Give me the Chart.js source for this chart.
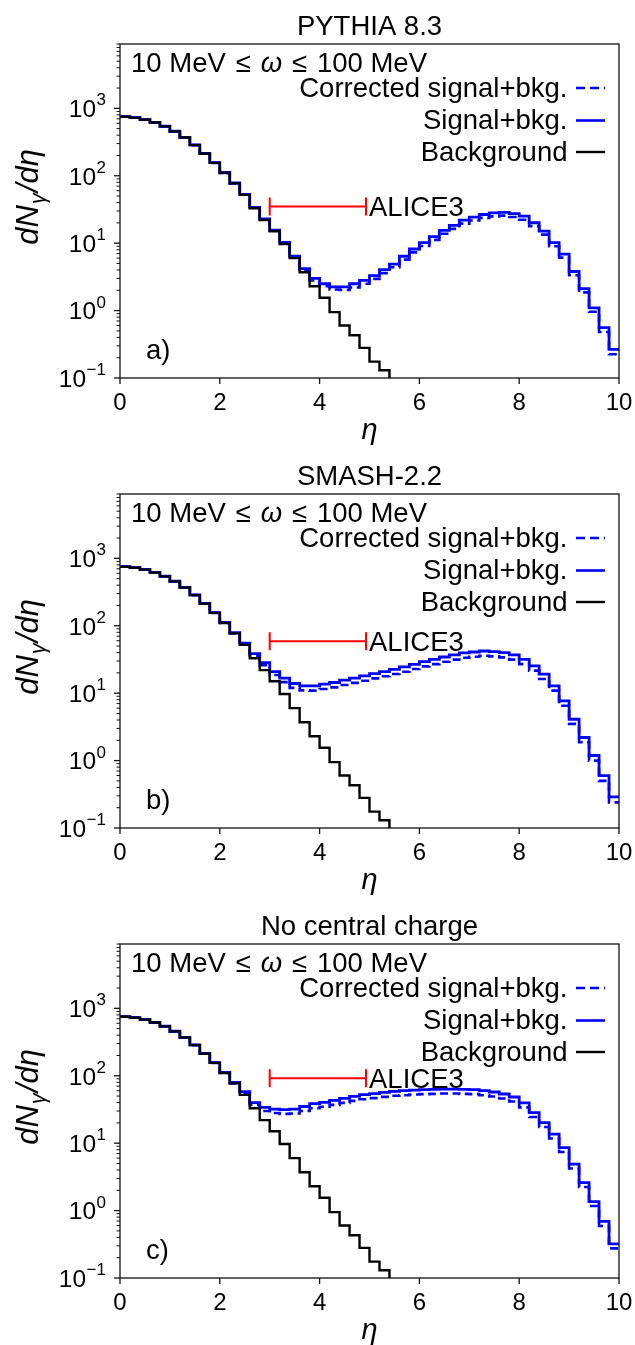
<!DOCTYPE html>
<html>
<head>
<meta charset="utf-8">
<script src="https://cdn.jsdelivr.net/npm/chart.js@4.4.1/dist/chart.umd.min.js"></script>
<style>
  html, body { margin: 0; padding: 0; background: #ffffff; }
  body { width: 635px; height: 1345px; position: relative; overflow: hidden; }
  canvas { position: absolute; left: 0; }
</style>
</head>
<body>
<canvas id="c0" width="635" height="450" style="top:0px"></canvas>
<canvas id="c1" width="635" height="450" style="top:450px"></canvas>
<canvas id="c2" width="635" height="450" style="top:900px"></canvas>
<script>
// ---------------- data ----------------
const binEdges = [0,0.2,0.4,0.6,0.8,1.0,1.2,1.4,1.6,1.8,2.0,2.2,2.4,2.6,2.8,3.0,3.2,3.4,3.6,3.8,
  4.0,4.2,4.4,4.6,4.8,5.0,5.2,5.4,5.6,5.8,6.0,6.2,6.4,6.6,6.8,7.0,7.2,7.4,7.6,7.8,
  8.0,8.2,8.4,8.6,8.8,9.0,9.2,9.4,9.6,9.8,10.0];

// background (same in all panels); values per bin starting at binEdges[i]
const background = [750,725,680,615,540,455,370,285,212,155,110,77,52,33,22,15,9.7,6.0,3.7,2.3,
  1.55,0.95,0.6,0.43,0.28,0.175,0.13,0.085];

const pythiaSignal = [752,727,682,617,542,457,372,287,214,157,112,78,53,34,23,15.6,10.3,6.4,4.2,3.0,
  2.5,2.25,2.25,2.5,2.8,3.3,4.05,4.9,6.4,8.2,10.2,12.5,15.5,18.3,21.9,24.3,26.6,28.1,28.7,27.5,
  25.1,20.1,15.1,10.2,6.9,3.8,2.12,1.1,0.56,0.265];
const pythiaCorrected = [750,725,680,615,540,455,370,285,212,155,110,77,52.5,33.5,22.5,15.3,10.0,6.2,4.0,2.8,
  2.3,2.05,2.02,2.2,2.5,2.95,3.6,4.4,5.7,7.3,9.1,11.2,13.8,16.3,19.5,21.7,23.7,25.0,25.6,24.5,
  22.3,17.9,13.4,9.0,6.1,3.35,1.86,0.96,0.48,0.225];

const smashSignal = [752,727,682,617,542,457,372,287,214,157,112,79,55,38.6,28.4,20.9,16.7,13.9,12.8,12.8,
  13.6,14.4,15.6,16.7,18.0,19.5,20.9,22.6,24.5,26.8,29.4,31.8,34.4,36.9,39.5,40.8,42.2,41.3,39.9,36.9,
  31.8,25.4,19.1,12.8,7.7,4.1,2.2,1.19,0.6,0.29];
const smashCorrected = [750,725,680,615,540,455,370,285,212,155,110,77,53,36,26,18.6,14.6,12.0,11.0,10.9,
  11.5,12.2,13.2,14.2,15.3,16.6,17.8,19.2,20.8,22.8,25.0,27.0,29.2,31.4,33.6,34.7,35.9,35.1,33.9,31.4,
  27.0,21.6,16.2,10.9,6.5,3.5,1.87,1.0,0.5,0.24];

const nccSignal = [752,727,682,617,542,457,372,287,214,157,112,80,58,40,34,32,31.5,32,35,38.6,
  40.4,43.2,46.2,49.5,52.4,54.2,56.7,58.7,60,61.4,62.1,62.8,63.5,63.5,62.8,62.1,60,57.4,53.6,48.4,
  39.5,28.4,20.2,13.6,8.6,4.9,2.6,1.36,0.69,0.32];
const nccCorrected = [750,725,680,615,540,455,370,285,212,155,110,77,55,37,30,28,27.2,27.5,30,33,
  34.6,37,39.6,42.4,44.9,46.5,48.6,50.4,51.5,52.7,53.3,53.9,54.5,54.5,53.9,53.3,51.5,49.3,46,41.6,
  34,24.5,17.4,11.7,7.4,4.2,2.24,1.17,0.59,0.275];

const panelTitles = ['PYTHIA 8.3', 'SMASH-2.2', 'No central charge'];
const panelTags = ['a)', 'b)', 'c)'];
const signalSeries = [pythiaSignal, smashSignal, nccSignal];
const correctedSeries = [pythiaCorrected, smashCorrected, nccCorrected];
const aliceEta = [3.0, 4.93];
const aliceLevel = [35, 59, 92];
const aliceLabel = 'ALICE3';
const legendLabels = ['Corrected signal+bkg.', 'Signal+bkg.', 'Background'];
const xTicks = [0, 2, 4, 6, 8, 10];
const xTickLabels = ['0', '2', '4', '6', '8', '10'];
const yMajor = [0.1, 1, 10, 100, 1000];
const yMajorExp = ['\u22121', '0', '1', '2', '3'];
const yMinor = [0.2,0.3,0.4,0.5,0.6,0.7,0.8,0.9, 2,3,4,5,6,7,8,9, 20,30,40,50,60,70,80,90,
  200,300,400,500,600,700,800,900, 2000,3000,4000,5000,6000,7000,8000,9000];
const yRange = [0.1, 9000];
const xRange = [0, 10];

// ---------------- helpers ----------------
const FONT = '"Liberation Sans", Arial, Helvetica, sans-serif';
const BLUE = '#0000ff', RED = '#ff0000', BLACK = '#000000';

function stepPoints(vals) {
  const pts = vals.map((v, i) => ({ x: binEdges[i], y: v }));
  pts.push({ x: binEdges[vals.length], y: vals[vals.length - 1] });
  return pts;
}

function setFont(ctx, p) { ctx.font = (p.it ? 'italic ' : '') + p.size + 'px ' + (p.family || FONT); }
function drawPieces(ctx, pieces, startX, baseline, gap) {
  let xx = startX;
  pieces.forEach((p, i) => {
    setFont(ctx, p);
    ctx.fillText(p.t, xx, baseline + (p.dy || 0));
    xx += ctx.measureText(p.t).width + (i < pieces.length - 1 ? (gap || 0) : 0);
  });
  return xx;
}
function piecesWidth(ctx, pieces) {
  let w = 0;
  pieces.forEach(p => { setFont(ctx, p); w += ctx.measureText(p.t).width; });
  return w;
}
function line(ctx, x1, y1, x2, y2) { ctx.beginPath(); ctx.moveTo(x1, y1); ctx.lineTo(x2, y2); ctx.stroke(); }

const decorPlugin = {
  id: 'decor',
  afterDraw(chart) {
    const idx = chart.options.panelIndex;
    const { ctx, chartArea: a } = chart;
    const xs = chart.scales.x, ys = chart.scales.y;
    ctx.save();
    ctx.fillStyle = BLACK;
    ctx.strokeStyle = '#111';
    ctx.lineWidth = 1.3;
    // frame
    ctx.strokeRect(a.left, a.top, a.right - a.left, a.bottom - a.top);
    // x ticks
    xTicks.forEach(v => { const px = xs.getPixelForValue(v); line(ctx, px, a.bottom, px, a.bottom + 6); });
    // y ticks
    yMajor.forEach(v => { const py = ys.getPixelForValue(v); line(ctx, a.left - 6, py, a.left, py); });
    ctx.lineWidth = 1.0;
    yMinor.forEach(v => { const py = ys.getPixelForValue(v); if (py >= a.top - 0.5) line(ctx, a.left - 3.5, py, a.left, py); });

    // x tick labels
    ctx.font = '24px ' + FONT;
    ctx.textAlign = 'center';
    ctx.textBaseline = 'alphabetic';
    xTicks.forEach((v, i) => ctx.fillText(xTickLabels[i], xs.getPixelForValue(v), a.bottom + 31.5));

    // y tick labels 10^k
    ctx.textAlign = 'left';
    yMajor.forEach((v, i) => {
      const py = ys.getPixelForValue(v);
      ctx.font = '17px ' + FONT;
      const sw = ctx.measureText(yMajorExp[i]).width;
      ctx.font = '24.5px ' + FONT;
      const bw = ctx.measureText('10').width;
      const right = 106;
      ctx.fillText('10', right - sw - bw - 0.5, py + 8.8);
      ctx.font = '17px ' + FONT;
      ctx.fillText(yMajorExp[i], right - sw, py - 3);
    });

    // x axis title
    ctx.font = 'italic 29px ' + FONT;
    ctx.textAlign = 'center';
    ctx.fillText('\u03b7', (a.left + a.right) / 2, a.bottom + 61);

    // y axis title (rotated)
    ctx.save();
    ctx.translate(38, (a.top + a.bottom) / 2 - 13);
    ctx.rotate(-Math.PI / 2);
    ctx.textAlign = 'left';
    const ylab = [
      { t: 'dN', it: true, size: 31 },
      { t: '\u03b3', it: true, size: 22, dy: 6.5 },
      { t: '/d\u03b7', it: true, size: 31 }
    ];
    const yw = piecesWidth(ctx, ylab);
    drawPieces(ctx, ylab, -yw / 2, 0, 1);
    ctx.restore();

    // panel title
    ctx.font = '27.5px ' + FONT;
    ctx.textAlign = 'center';
    ctx.fillText(panelTitles[idx], (a.left + a.right) / 2, 35);

    // energy window text (spread to the reference width)
    ctx.textAlign = 'left';
    const ew = [
      { t: '10 MeV', size: 27.5 },
      { t: '\u2264', size: 27.5 },
      { t: '\u03c9', it: true, size: 27.5 },
      { t: '\u2264', size: 27.5 },
      { t: '100 MeV', size: 27.5 }
    ];
    const ewGap = (296 - piecesWidth(ctx, ew)) / 4;
    drawPieces(ctx, ew, a.left + 11, a.top + 28, ewGap);

    // legend
    const legRight = 567.5;
    const legBase = [a.top + 52.5, a.top + 85, a.top + 116.5];
    const legStyle = [
      { c: BLUE, w: 2.6, dash: [9, 5] },
      { c: BLUE, w: 2.6, dash: [] },
      { c: BLACK, w: 2.4, dash: [] }
    ];
    ctx.font = '27.5px ' + FONT;
    ctx.textAlign = 'right';
    legendLabels.forEach((lab, i) => {
      ctx.fillStyle = BLACK;
      ctx.fillText(lab, legRight, legBase[i]);
      ctx.strokeStyle = legStyle[i].c;
      ctx.lineWidth = legStyle[i].w;
      ctx.setLineDash(legStyle[i].dash);
      line(ctx, 576, legBase[i] - 8.5, 605, legBase[i] - 8.5);
      ctx.setLineDash([]);
    });

    // ALICE3 label
    ctx.fillStyle = BLACK;
    ctx.textAlign = 'left';
    ctx.font = '27.5px ' + FONT;
    ctx.fillText(aliceLabel, xs.getPixelForValue(aliceEta[1]) + 3, ys.getPixelForValue(aliceLevel[idx]) + 9.8);

    // panel tag
    ctx.fillText(panelTags[idx], 146, a.bottom - 19);
    ctx.restore();
  }
};

function makePanel(idx) {
  const canvas = document.getElementById('c' + idx);
  const datasets = [
    {
      label: legendLabels[2], data: stepPoints(background), stepped: true,
      borderColor: BLACK, borderWidth: 2.4, pointRadius: 0, order: 1, fill: false
    },
    {
      label: legendLabels[1], data: stepPoints(signalSeries[idx]), stepped: true,
      borderColor: BLUE, borderWidth: 2.8, pointRadius: 0, order: 2, fill: false
    },
    {
      label: legendLabels[0], data: stepPoints(correctedSeries[idx]), stepped: true,
      borderColor: BLUE, borderWidth: 2.6, borderDash: [8, 4.5], pointRadius: 0, order: 3, fill: false
    },
    {
      label: aliceLabel, data: aliceEta.map(e => ({ x: e, y: aliceLevel[idx] })), stepped: false,
      borderColor: RED, borderWidth: 2, pointStyle: 'line', pointRadius: 9, pointRotation: 90,
      pointBorderColor: RED, pointBorderWidth: 2, order: 0, fill: false
    }
  ];
  return new Chart(canvas, {
    type: 'line',
    data: { datasets },
    options: {
      panelIndex: idx,
      responsive: false,
      animation: false,
      devicePixelRatio: 1,
      layout: { padding: { top: 44, right: 16, left: 0, bottom: 0 } },
      plugins: { legend: { display: false }, tooltip: { enabled: false }, title: { display: false } },
      elements: { line: { tension: 0 } },
      scales: {
        x: {
          type: 'linear', min: xRange[0], max: xRange[1],
          grid: { display: false }, border: { display: false }, ticks: { display: false },
          afterFit: s => { s.height = 450 - 378; }
        },
        y: {
          type: 'logarithmic', min: yRange[0], max: yRange[1],
          grid: { display: false }, border: { display: false }, ticks: { display: false },
          afterFit: s => { s.width = 120; }
        }
      }
    },
    plugins: [decorPlugin]
  });
}
[0, 1, 2].forEach(makePanel);
</script>
</body>
</html>
